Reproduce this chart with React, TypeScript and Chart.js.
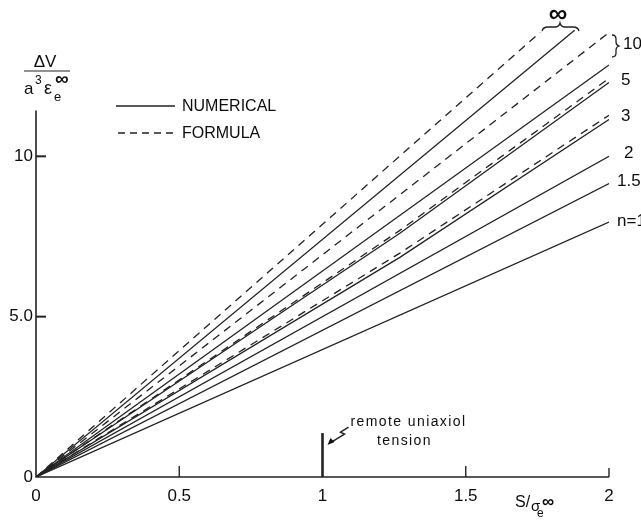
import React, { useEffect, useRef } from 'react';
import { Chart, registerables } from 'chart.js';

Chart.register(...registerables);

// ---- data ----
const X_TICKS = [0, 0.5, 1, 1.5, 2];
const Y_TICKS = [0, 5, 10];
const X_TICK_LABELS = ['0', '0.5', '1', '1.5', '2'];
const Y_TICK_LABELS = ['0', '5.0', '10'];
const N_LABELS = ['∞', '10', '5', '3', '2', '1.5', 'n=1'];

// numerical (solid) curves
const numericalInf = [{ x: 0, y: 0 }, { x: 1.88, y: 13.93 }];
const numerical10 = [{ x: 0, y: 0 }, { x: 2, y: 12.85 }];
const numerical5 = [{ x: 0, y: 0 }, { x: 1.27, y: 7.6 }, { x: 2, y: 12.3 }];
const numerical3 = [{ x: 0, y: 0 }, { x: 1.27, y: 6.85 }, { x: 2, y: 11.15 }];
const numerical2 = [{ x: 0, y: 0 }, { x: 2, y: 10.0 }];
const numerical15 = [{ x: 0, y: 0 }, { x: 2, y: 9.15 }];
const numerical1 = [{ x: 0, y: 0 }, { x: 2, y: 7.95 }];

// formula (dashed) curves
const formulaInf = [{ x: 0, y: 0 }, { x: 1.76, y: 13.87 }];
const formula10 = [{ x: 0, y: 0 }, { x: 2, y: 13.86 }];
const formula5 = [{ x: 0, y: 0 }, { x: 1.27, y: 7.69 }, { x: 2, y: 12.43 }];
const formula3 = [{ x: 0, y: 0 }, { x: 1.27, y: 6.98 }, { x: 2, y: 11.28 }];

// remote uniaxial tension marker
const TENSION_S = 1;
const TENSION_HEIGHT = 1.37;
const Y_AXIS_TOP = 11.43;

const INK = '#222';
const FONT = '"Liberation Sans", Arial, sans-serif';

const overlayPlugin = {
  id: 'overlay',
  afterDraw(chart: any) {
    const ctx = chart.ctx;
    const xs = chart.scales.x;
    const ys = chart.scales.y;
    const X = (v: number) => xs.getPixelForValue(v);
    const Y = (v: number) => ys.getPixelForValue(v);
    const x0 = X(0);
    const y0 = Y(0);
    ctx.save();
    ctx.strokeStyle = INK;
    ctx.fillStyle = '#0d0d0d';
    ctx.lineCap = 'butt';

    // axes
    ctx.lineWidth = 1.6;
    ctx.beginPath();
    ctx.moveTo(x0, Y(Y_AXIS_TOP));
    ctx.lineTo(x0, y0);
    ctx.lineTo(X(2), y0);
    ctx.stroke();

    // y ticks (inward)
    ctx.lineWidth = 2;
    Y_TICKS.forEach((t) => {
      if (t === 0) return;
      ctx.beginPath();
      ctx.moveTo(x0, Y(t));
      ctx.lineTo(x0 + 10, Y(t));
      ctx.stroke();
    });
    // x ticks (inward)
    ctx.lineWidth = 1.4;
    X_TICKS.forEach((t) => {
      if (t === 0 || t === TENSION_S) return;
      ctx.beginPath();
      ctx.moveTo(X(t), y0);
      ctx.lineTo(X(t), y0 - (t === 2 ? 9 : 11));
      ctx.stroke();
    });

    // remote uniaxial tension line
    const bx = X(TENSION_S);
    const top = Y(TENSION_HEIGHT);
    ctx.lineWidth = 2.6;
    ctx.beginPath();
    ctx.moveTo(bx, y0);
    ctx.lineTo(bx, top);
    ctx.stroke();

    // zig-zag arrow
    ctx.lineWidth = 1.5;
    ctx.beginPath();
    ctx.moveTo(bx + 26, top - 6);
    ctx.lineTo(bx + 18, top - 1);
    ctx.lineTo(bx + 22, top + 1);
    ctx.lineTo(bx + 9, top + 9);
    ctx.stroke();
    ctx.beginPath();
    ctx.moveTo(bx + 5, top + 12);
    ctx.lineTo(bx + 8, top + 5);
    ctx.lineTo(bx + 12, top + 9);
    ctx.closePath();
    ctx.fill();

    ctx.font = `14px ${FONT}`;
    ctx.textBaseline = 'middle';
    ctx.textAlign = 'left';
    (ctx as any).letterSpacing = '1.4px';
    ctx.fillText('remote uniaxiol', bx + 28, top - 11);
    ctx.textAlign = 'center';
    ctx.fillText('tension', bx + 82, top + 8);
    (ctx as any).letterSpacing = '0px';

    // legend
    ctx.lineWidth = 1.4;
    ctx.beginPath();
    ctx.moveTo(116, 106);
    ctx.lineTo(175, 106);
    ctx.stroke();
    ctx.setLineDash([7, 5]);
    ctx.beginPath();
    ctx.moveTo(118, 133);
    ctx.lineTo(177, 133);
    ctx.stroke();
    ctx.setLineDash([]);
    ctx.font = `16px ${FONT}`;
    ctx.textAlign = 'left';
    ctx.fillText('NUMERICAL', 182, 107);
    ctx.fillText('FORMULA', 182, 134);

    // y-axis title (fraction)
    ctx.textAlign = 'center';
    ctx.font = `17px ${FONT}`;
    ctx.fillText('ΔV', 45, 62);
    ctx.lineWidth = 1.2;
    ctx.beginPath();
    ctx.moveTo(24, 71);
    ctx.lineTo(70, 71);
    ctx.stroke();
    ctx.textAlign = 'left';
    ctx.font = `17px ${FONT}`;
    ctx.fillText('a', 24, 89);
    ctx.font = `12px ${FONT}`;
    ctx.fillText('3', 35, 81);
    ctx.font = `18px ${FONT}`;
    ctx.fillText('ε', 44, 89);
    ctx.font = `13px ${FONT}`;
    ctx.fillText('e', 54, 97);
    ctx.font = `bold 19px ${FONT}`;
    ctx.fillText('∞', 55, 80);

    // x-axis title
    ctx.font = `16px ${FONT}`;
    ctx.fillText('S/', 515, 503);
    ctx.font = `15px ${FONT}`;
    ctx.fillText('σ', 531, 507);
    ctx.font = `12px ${FONT}`;
    ctx.fillText('e', 537, 514);
    ctx.font = `bold 17px ${FONT}`;
    ctx.fillText('∞', 542, 502);

    // curve labels
    ctx.font = `bold 26px ${FONT}`;
    ctx.textAlign = 'center';
    ctx.fillText(N_LABELS[0], 558, 15);
    ctx.font = `17px ${FONT}`;
    ctx.textAlign = 'left';
    ctx.fillText(N_LABELS[1], 623, 44);
    ctx.fillText(N_LABELS[2], 621, 80);
    ctx.fillText(N_LABELS[3], 621, 116);
    ctx.fillText(N_LABELS[4], 624, 153);
    ctx.fillText(N_LABELS[5], 617, 181);
    ctx.fillText(N_LABELS[6], 617, 221);

    // brace under infinity
    ctx.lineWidth = 1.3;
    ctx.beginPath();
    ctx.moveTo(542, 31);
    ctx.quadraticCurveTo(543, 27, 548, 27);
    ctx.lineTo(555, 27);
    ctx.quadraticCurveTo(559, 27, 560, 23);
    ctx.quadraticCurveTo(561, 27, 565, 27);
    ctx.lineTo(573, 27);
    ctx.quadraticCurveTo(578, 27, 579, 31);
    ctx.stroke();
    // brace for 10
    ctx.beginPath();
    ctx.moveTo(612, 35);
    ctx.quadraticCurveTo(616, 35, 616, 39);
    ctx.lineTo(616, 42);
    ctx.quadraticCurveTo(616, 45, 619, 46);
    ctx.quadraticCurveTo(616, 47, 616, 50);
    ctx.lineTo(616, 53);
    ctx.quadraticCurveTo(616, 57, 612, 57);
    ctx.stroke();

    ctx.restore();
  },
};

function solid(data: any[]) {
  return {
    data,
    borderColor: INK,
    borderWidth: 1.3,
    pointRadius: 0,
    tension: 0,
    fill: false,
  };
}
function dashed(data: any[]) {
  return { ...solid(data), borderDash: [8, 6] };
}

export default function App() {
  const ref = useRef<HTMLCanvasElement | null>(null);
  useEffect(() => {
    if (!ref.current) return;
    const chart = new Chart(ref.current, {
      type: 'line',
      data: {
        datasets: [
          solid(numericalInf),
          solid(numerical10),
          solid(numerical5),
          solid(numerical3),
          solid(numerical2),
          solid(numerical15),
          solid(numerical1),
          dashed(formulaInf),
          dashed(formula10),
          dashed(formula5),
          dashed(formula3),
        ],
      },
      options: {
        animation: false,
        responsive: false,
        devicePixelRatio: 1,
        layout: { padding: { top: 12, right: 32, left: 0, bottom: 0 } },
        plugins: { legend: { display: false }, tooltip: { enabled: false } },
        scales: {
          x: {
            type: 'linear',
            min: 0,
            max: 2,
            grid: { display: false },
            border: { display: false },
            afterFit: (s: any) => {
              s.height = 43;
            },
            afterBuildTicks: (s: any) => {
              s.ticks = X_TICKS.map((v) => ({ value: v }));
            },
            ticks: {
              autoSkip: false,
              maxRotation: 0,
              padding: 1,
              color: '#0d0d0d',
              font: { family: FONT, size: 17 },
              callback: (v: any) => X_TICK_LABELS[X_TICKS.indexOf(Number(v))] ?? '',
            },
          },
          y: {
            type: 'linear',
            min: 0,
            max: 14.5,
            grid: { display: false },
            border: { display: false },
            afterFit: (s: any) => {
              s.width = 36;
            },
            afterBuildTicks: (s: any) => {
              s.ticks = Y_TICKS.map((v) => ({ value: v }));
            },
            ticks: {
              autoSkip: false,
              padding: -5,
              color: '#0d0d0d',
              font: { family: FONT, size: 17 },
              callback: (v: any) => Y_TICK_LABELS[Y_TICKS.indexOf(Number(v))] ?? '',
            },
          },
        },
      },
      plugins: [overlayPlugin],
    } as any);
    return () => chart.destroy();
  }, []);
  return (
    <div style={{ position: 'absolute', left: 0, top: 0, width: 641, height: 520, background: '#fff' }}>
      <canvas ref={ref} width={641} height={520} />
    </div>
  );
}
